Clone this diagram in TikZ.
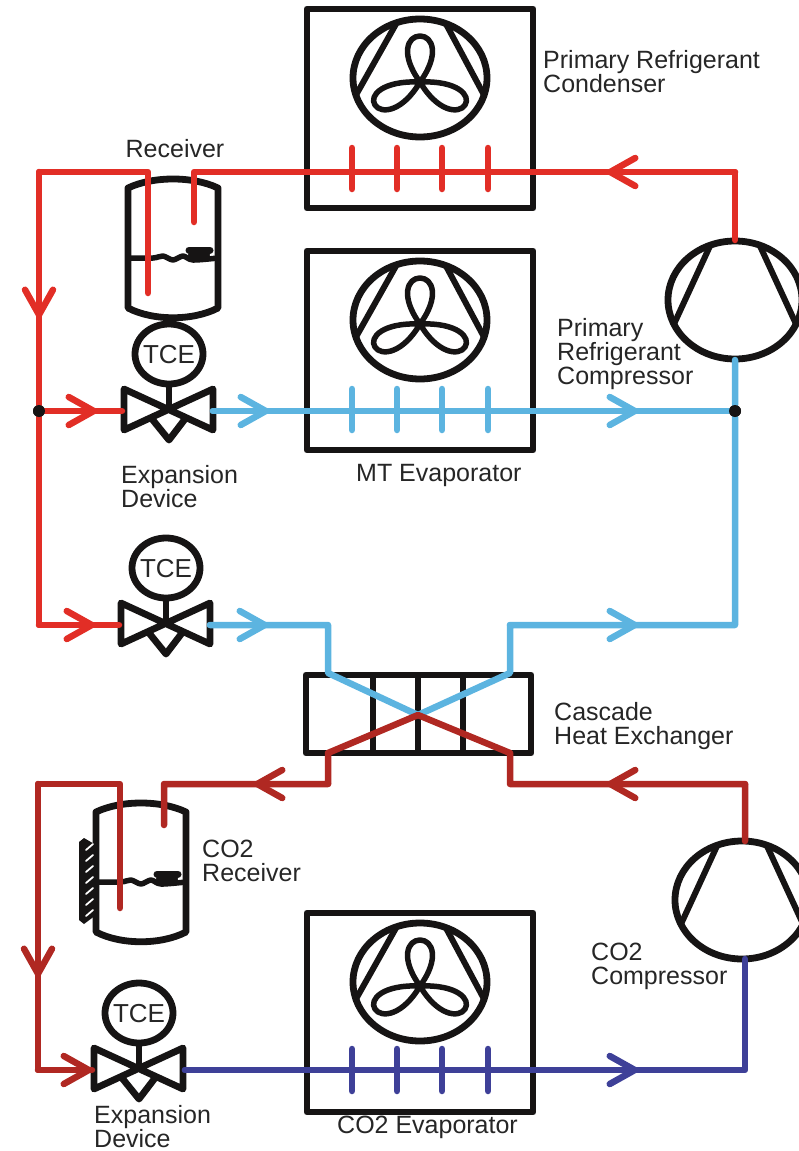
\documentclass[tikz,border=0pt]{standalone}
\usepackage{fontspec}
\setmainfont{Liberation Sans}
\definecolor{hotline}{RGB}{226, 46, 38}
\definecolor{coolline}{RGB}{92, 180, 224}
\definecolor{brickline}{RGB}{176, 40, 34}
\definecolor{navyline}{RGB}{62, 64, 152}
\definecolor{blackline}{RGB}{22, 20, 20}
\usetikzlibrary{arrows.meta}
\tikzset{
    pipe/.style={line width=6.5pt, line cap=round, line join=round},
    flow/.style={pipe, -{Straight Barb[length=25pt, width=28pt, round]}},
    hold/.style={line width=6.8pt, draw=blackline, line join=round},
    labeltext/.style={font=\fontsize{25}{24}\selectfont, align=left, anchor=west,
        inner sep=0pt, text=black!85},
    dotnode/.style={circle, fill=blackline, inner sep=0pt, minimum size=12pt},
    fanunit/.pic={
        \draw[hold] (0, 0) rectangle (226, 199);
        \draw[hold] (113, 69) ellipse (67 and 59);
        \draw[hold, line width=6pt] (89, 15) -- (49, 86);
        \draw[hold, line width=6pt] (139, 15) -- (177, 86);
        \foreach \bladeangle in {0, 120, 240}
            \draw[hold, line width=5.5pt, shift={(113, 73)}, xscale=1.13, rotate=\bladeangle]
                (0, 0) .. controls (-18, -28) and (-11, -46) .. (0, -46)
                .. controls (11, -46) and (18, -28) .. (0, 0);
    },
    compressor/.pic={
        \draw[hold] (0, 0) ellipse (67 and 59);
        \draw[hold, line width=6pt] (-25, -54) -- (-61, 24);
        \draw[hold, line width=6pt] (25, -54) -- (61, 24);
    },
    tcevalve/.pic={
        \draw[hold] (-45, -22) -- (-45, 19) -- (44, -22) -- (44, 19) -- cycle;
        \draw[hold] (-17, 8) -- (0, 29) -- (16, 8);
        \draw[hold] (0, -27) -- (0, 0);
        \draw[hold] (0, -57) ellipse (34 and 30);
        \node[font=\fontsize{26}{26}\selectfont, text=black!85] (tcetext) at (0, -56) {TCE};
    },
    tank/.pic={
        \draw[hold] (-45, 0) .. controls (-20, -12) and (20, -12) .. (45, 0)
            -- (45, 120) .. controls (20, 133) and (-20, 133) .. (-45, 120) -- cycle;
        \draw[hold, line width=5.5pt] plot[smooth] coordinates {(-45, 70) (-20, 70) (-10, 68)
            (0, 72) (10, 68) (20, 72) (45, 70)};
        \draw[hold, line width=7pt, line cap=round] (16, 62) -- (37, 62);
        \fill[blackline] (26, 67) ellipse (11 and 6);
    },
}
\begin{document}
\begin{tikzpicture}[x=1pt, y=-1pt]
    \useasboundingbox (0, 0) rectangle (799, 1151);

    \pic at (307, 9) {fanunit};
    \pic at (307, 251) {fanunit};
    \pic at (307, 913) {fanunit};
    \pic at (735, 300) {compressor};
    \pic at (742, 900) {compressor};
    \pic at (173, 188) {tank};
    \pic at (141, 812) {tank};
    \pic at (169, 411) {tcevalve};
    \pic at (166, 625) {tcevalve};
    \pic at (139, 1070) {tcevalve};

    % heat exchanger
    \draw[hold] (306, 675) rectangle (531, 753);
    \foreach \dividerx in {373, 418, 463}
        \draw[hold] (\dividerx, 675) -- (\dividerx, 753);

    % bracket on the co2 tank
    \fill[blackline] (79, 842) -- (84, 838) -- (96, 845) -- (96, 915) -- (84, 924) -- (79, 920) -- cycle;
    \foreach \hatchy in {850, 861, ..., 916}
        \draw[white, line width=1.8pt, line cap=round] (86, \hatchy) -- (93, \hatchy - 6);

    \node[dotnode] (hotjoin) at (39, 411) {};
    \node[dotnode] (cooljoin) at (735, 411) {};

    \coordinate (hotcomp) at (735, 240);
    \coordinate (hotcorner) at (735, 172);
    \coordinate (hottipa) at (607, 172);
    \coordinate (rxinturn) at (194, 172);
    \coordinate (rxinend) at (194, 222);
    \coordinate (rxoutend) at (148, 293);
    \coordinate (rxoutturn) at (148, 172);
    \coordinate (hotleft) at (39, 172);
    \coordinate (hottipb) at (39, 318);
    \coordinate (hotlow) at (39, 625);
    \coordinate (hottipc) at (97, 411);
    \coordinate (valveain) at (122, 411);
    \coordinate (hottipd) at (95, 625);
    \coordinate (valvebin) at (119, 625);

    \coordinate (valveaout) at (213, 411);
    \coordinate (cooltipa) at (269, 411);
    \coordinate (cooltipb) at (638, 411);
    \coordinate (compin) at (735, 360);
    \coordinate (coolright) at (735, 625);
    \coordinate (cooltipc) at (638, 625);
    \coordinate (hxcoolb) at (510, 625);
    \coordinate (hxcoolc) at (510, 673);
    \coordinate (hxmid) at (418, 715);
    \coordinate (valvebout) at (210, 625);
    \coordinate (cooltipd) at (268, 625);
    \coordinate (hxcoola) at (328, 625);
    \coordinate (hxcoold) at (328, 673);

    \coordinate (hxhota) at (328, 753);
    \coordinate (hxhotb) at (510, 753);
    \coordinate (hxhotc) at (510, 784);
    \coordinate (bricktipa) at (607, 784);
    \coordinate (brickcorner) at (745, 784);
    \coordinate (brickcomp) at (745, 841);
    \coordinate (hxhotd) at (328, 784);
    \coordinate (bricktipb) at (254, 784);
    \coordinate (coinbend) at (164, 784);
    \coordinate (coinend) at (164, 825);
    \coordinate (cooutend) at (120, 908);
    \coordinate (cooutturn) at (120, 784);
    \coordinate (brickleft) at (38, 784);
    \coordinate (bricktipc) at (38, 977);
    \coordinate (bricklow) at (38, 1070);
    \coordinate (bricktipd) at (92, 1070);

    \coordinate (valvecout) at (185, 1070);
    \coordinate (navytip) at (638, 1070);
    \coordinate (navycorner) at (745, 1070);
    \coordinate (navycomp) at (745, 959);

    \begin{scope}[every path/.style={draw=hotline}]
        \draw[pipe] (hotcomp) -- (hotcorner) -- (hottipa);
        \draw[flow] (hotcorner) -- (hottipa);
        \draw[pipe] (hottipa) -- (rxinturn) -- (rxinend);
        \draw[pipe] (rxoutend) -- (rxoutturn) -- (hotleft) -- (hottipb);
        \draw[flow] (hotleft) -- (hottipb);
        \draw[pipe] (hottipb) -- (hotjoin) -- (hotlow) -- (valvebin);
        \draw[flow] (hotlow) -- (hottipd);
        \draw[pipe] (hotjoin) -- (valveain);
        \draw[flow] (hotjoin) -- (hottipc);
        \foreach \tickx in {352, 397, 442, 488}
            \draw[pipe] (\tickx, 148) -- (\tickx, 189);
    \end{scope}

    \begin{scope}[every path/.style={draw=coolline}]
        \draw[pipe] (valveaout) -- (cooljoin);
        \draw[flow] (valveaout) -- (cooltipa);
        \draw[flow] (cooltipa) -- (cooltipb);
        \draw[pipe] (compin) -- (cooljoin) -- (coolright) -- (hxcoolb) -- (hxcoolc) -- (hxmid);
        \draw[flow] (hxcoolb) -- (cooltipc);
        \draw[pipe] (valvebout) -- (hxcoola) -- (hxcoold) -- (hxmid);
        \draw[flow] (valvebout) -- (cooltipd);
        \foreach \tickx in {352, 397, 442, 488}
            \draw[pipe] (\tickx, 389) -- (\tickx, 430);
    \end{scope}

    \begin{scope}[every path/.style={draw=brickline}]
        \draw[pipe] (hxmid) -- (hxhota) -- (hxhotd) -- (coinbend) -- (coinend);
        \draw[flow] (hxhotd) -- (bricktipb);
        \draw[pipe] (hxmid) -- (hxhotb) -- (hxhotc) -- (brickcorner) -- (brickcomp);
        \draw[flow] (brickcorner) -- (bricktipa);
        \draw[pipe] (cooutend) -- (cooutturn) -- (brickleft) -- (bricklow) -- (bricktipd);
        \draw[flow] (brickleft) -- (bricktipc);
        \draw[flow] (bricklow) -- (bricktipd);
    \end{scope}

    \begin{scope}[every path/.style={draw=navyline}]
        \draw[pipe] (valvecout) -- (navycorner) -- (navycomp);
        \draw[flow] (valvecout) -- (navytip);
        \foreach \tickx in {352, 397, 442, 488}
            \draw[pipe] (\tickx, 1049) -- (\tickx, 1091);
    \end{scope}

    \fill[blackline] (cooljoin) circle (6);
    \fill[blackline] (hotjoin) circle (6);

    \node[labeltext] (condenserlabel) at (543, 72) {Primary Refrigerant\\Condenser};
    \node[labeltext, anchor=center] (receiverlabel) at (175, 149) {Receiver};
    \node[labeltext] (compressorlabel) at (557, 354) {Primary\\Refrigerant\\Compressor};
    \node[labeltext] (valvealabel) at (121, 487) {Expansion\\Device};
    \node[labeltext] (mtlabel) at (356, 475) {MT Evaporator};
    \node[labeltext] (cascadelabel) at (554, 726) {Cascade\\Heat Exchanger};
    \node[labeltext] (coreceiverlabel) at (202, 861) {CO2\\Receiver};
    \node[labeltext] (cocompressorlabel) at (591, 966) {CO2\\Compressor};
    \node[labeltext] (valveclabel) at (94, 1127) {Expansion\\Device};
    \node[labeltext] (coevaplabel) at (337, 1127) {CO2 Evaporator};
\end{tikzpicture}
\end{document}
